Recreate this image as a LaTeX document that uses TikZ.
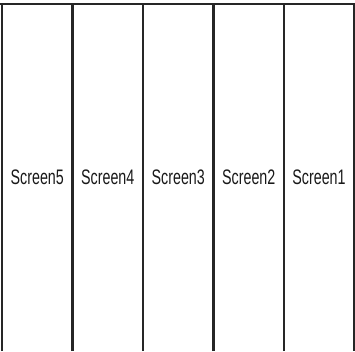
\documentclass[tikz,border=0pt]{standalone}
\usepackage{fontspec}
\setmainfont{Liberation Sans}
\begin{document}
\begin{tikzpicture}[x=1pt,y=1pt,
  frame/.style={line width=2.6pt, draw=black!85},
  lbl/.style={font=\fontsize{21}{21}\selectfont, inner sep=0pt, text=black!90}]
\useasboundingbox (0,0) rectangle (355,351);
\draw[frame] (2,0) -- (2,347) -- (354,347) -- (354,0);
\draw[frame] (0,347) -- (355,347);
\foreach \x in {72.5,143,213.5,284}{
  \draw[frame] (\x,0) -- (\x,347);
}
\node[lbl] (s5) at (37.25,174) {\scalebox{0.68}[1]{Screen5}};
\node[lbl] (s4) at (107.75,174) {\scalebox{0.68}[1]{Screen4}};
\node[lbl] (s3) at (178.25,174) {\scalebox{0.68}[1]{Screen3}};
\node[lbl] (s2) at (248.75,174) {\scalebox{0.68}[1]{Screen2}};
\node[lbl] (s1) at (319,174) {\scalebox{0.68}[1]{Screen1}};
\end{tikzpicture}
\end{document}
